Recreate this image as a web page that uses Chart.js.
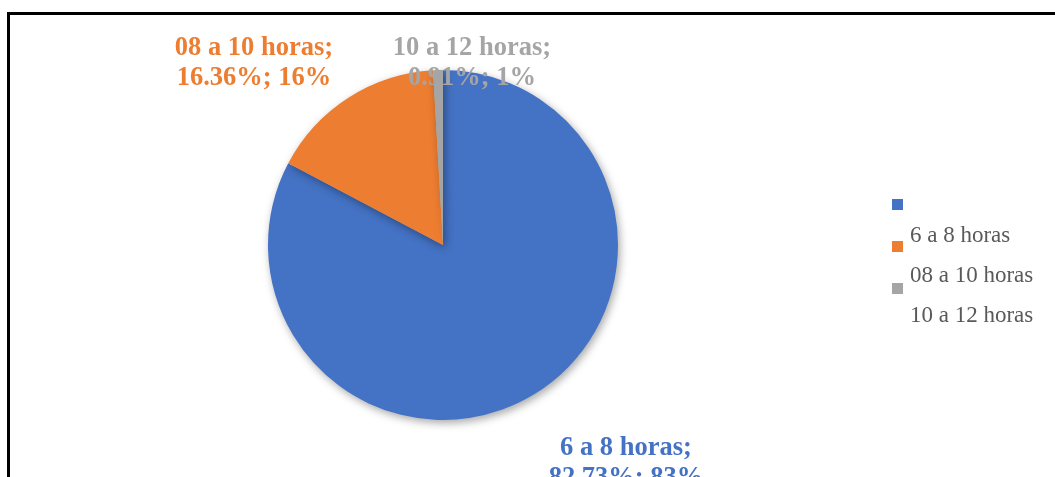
<!DOCTYPE html>
<html>
<head>
<meta charset="utf-8">
<script src="https://cdn.jsdelivr.net/npm/chart.js@4/dist/chart.umd.min.js"></script>
<style>
  html, body { margin: 0; padding: 0; background: #fff; overflow: hidden; }
  #wrap { position: relative; width: 1055px; height: 477px; }
  #marco { position: absolute; left: 7px; top: 12px; width: 1100px; height: 600px;
           border: 3px solid #000; box-sizing: border-box; }
  canvas { position: absolute; left: 0; top: 0; }
</style>
</head>
<body>
<div id="wrap">
  <div id="marco"></div>
  <canvas id="myChart" width="1055" height="477"></canvas>
</div>
<script>
// dati
var etichette = ['6 a 8 horas', '08 a 10 horas', '10 a 12 horas'];
var percentuali = [82.73, 16.36, 0.91];
var arrotondati = ['83%', '16%', '1%'];
var colori = ['#4472C4', '#ED7D31', '#A5A5A5'];

// posizione del centro di ogni etichetta dati (x, baseline prima riga)
var pos_etichette = [[626, 455], [254, 55], [472, 55]];

var serif = '"Liberation Serif", "Times New Roman", serif';

// etichette dati sopra la torta
var etichetteDati = {
    id: 'etichetteDati',
    afterDatasetsDraw: function(chart) {
        var ctx = chart.ctx;
        var dati = chart.data.datasets[0].data;
        ctx.save();
        ctx.font = 'bold 26.5px ' + serif;
        ctx.textAlign = 'center';
        ctx.textBaseline = 'alphabetic';
        for (var i = 0; i < dati.length; i++) {
            var p = pos_etichette[i];
            ctx.fillStyle = colori[i];
            ctx.fillText(chart.data.labels[i] + ';', p[0], p[1]);
            ctx.fillText(dati[i].toFixed(2) + '%; ' + arrotondati[i], p[0], p[1] + 30);
        }
        ctx.restore();
    }
};

// ombra leggera sotto la torta
var ombra = {
    id: 'ombra',
    beforeDatasetDraw: function(chart) {
        var ctx = chart.ctx;
        ctx.save();
        ctx.shadowColor = 'rgba(0,0,0,0.35)';
        ctx.shadowBlur = 8;
        ctx.shadowOffsetX = 2;
        ctx.shadowOffsetY = 3;
    },
    afterDatasetDraw: function(chart) {
        chart.ctx.restore();
    }
};

// legenda disallineata come nel file originale
var legenda = {
    id: 'legenda',
    afterDraw: function(chart) {
        var ctx = chart.ctx;
        var colori_ds = chart.data.datasets[0].backgroundColor;
        ctx.save();
        ctx.font = '23px ' + serif;
        ctx.textBaseline = 'alphabetic';
        ctx.textAlign = 'left';
        for (var i = 0; i < chart.data.labels.length; i++) {
            ctx.fillStyle = colori_ds[i];
            ctx.fillRect(892, 199 + i * 42, 11, 11);
            ctx.fillStyle = '#595959';
            ctx.fillText(chart.data.labels[i], 910, 242 + i * 40);
        }
        ctx.restore();
    }
};

var ctx = document.getElementById('myChart');
var myChart = new Chart(ctx, {
    type: 'pie',
    data: {
        labels: etichette,
        datasets: [{
            data: percentuali,
            backgroundColor: colori,
            borderWidth: 0
        }]
    },
    options: {
        responsive: false,
        animation: false,
        layout: { padding: { left: 268, right: 437, top: 70, bottom: 57 } },
        plugins: {
            legend: { display: false },
            tooltip: { enabled: false }
        }
    },
    plugins: [ombra, etichetteDati, legenda]
});
</script>
</body>
</html>
